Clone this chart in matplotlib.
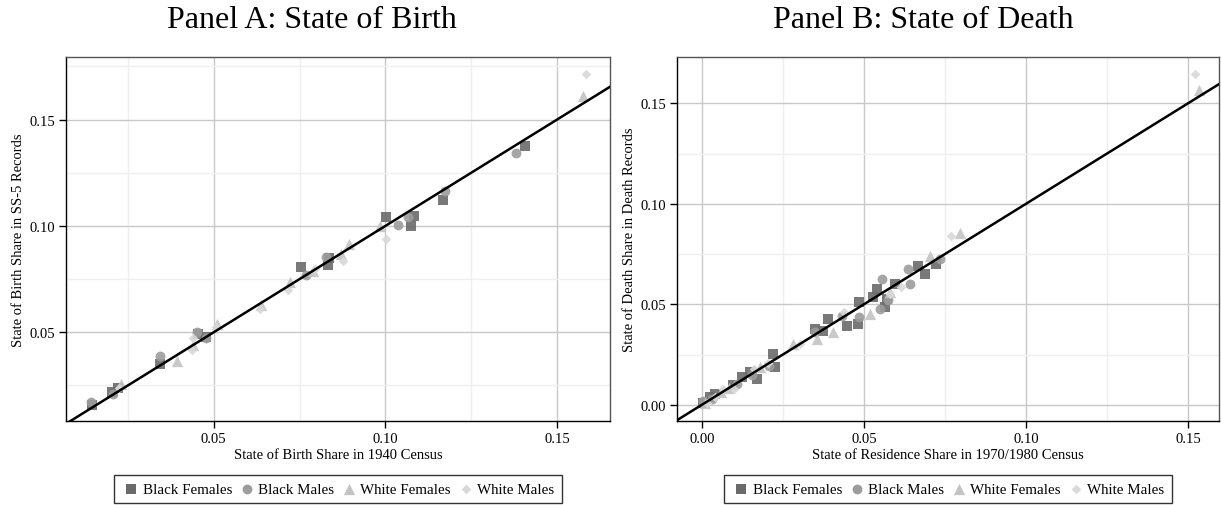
import matplotlib
matplotlib.use("Agg")
import matplotlib.pyplot as plt
from matplotlib.ticker import MultipleLocator

plt.rcParams["font.family"] = ["Liberation Serif", "DejaVu Serif"]

groups = ["Black Females", "Black Males", "White Females", "White Males"]

# Panel A: state of birth share, 1940 census (x) vs SS-5 records (y)
a_bf_x = [0.0145, 0.0203, 0.0222, 0.0343, 0.0455, 0.0479, 0.0755, 0.0832, 0.0835, 0.1002, 0.1084, 0.1076, 0.1169, 0.1406]
a_bf_y = [0.0160, 0.0220, 0.0239, 0.0353, 0.0490, 0.0478, 0.0806, 0.0814, 0.0850, 0.1044, 0.1048, 0.1001, 0.1123, 0.1377]
a_bm_x = [0.0142, 0.0206, 0.0343, 0.0450, 0.0479, 0.0770, 0.0828, 0.1036, 0.1065, 0.1174, 0.1380]
a_bm_y = [0.0170, 0.0212, 0.0387, 0.0501, 0.0472, 0.0767, 0.0853, 0.1005, 0.1044, 0.1166, 0.1341]
a_wf_x = [0.0230, 0.0393, 0.0440, 0.0511, 0.0639, 0.0721, 0.0790, 0.0871, 0.0895, 0.0985, 0.1574]
a_wf_y = [0.0259, 0.0363, 0.0440, 0.0540, 0.0626, 0.0737, 0.0790, 0.0869, 0.0916, 0.1001, 0.1611]
a_wm_x = [0.0225, 0.0438, 0.0439, 0.0508, 0.0634, 0.0715, 0.0794, 0.0878, 0.1002, 0.1583]
a_wm_y = [0.0240, 0.0415, 0.0475, 0.0525, 0.0610, 0.0697, 0.0798, 0.0834, 0.0939, 0.1716]

# Panel B: state of residence share, 1970/1980 census (x) vs death records (y)
b_bf_x = [0.0002, 0.0025, 0.0040, 0.0097, 0.0123, 0.0148, 0.0169, 0.0220, 0.0225, 0.0349, 0.0374,
          0.0390, 0.0447, 0.0481, 0.0486, 0.0529, 0.0539, 0.0565, 0.0570, 0.0596, 0.0668, 0.0688, 0.0724]
b_bf_y = [0.0008, 0.0038, 0.0055, 0.0096, 0.0137, 0.0162, 0.0129, 0.0253, 0.0187, 0.0377, 0.0369,
          0.0427, 0.0394, 0.0402, 0.0510, 0.0535, 0.0576, 0.0485, 0.0526, 0.0601, 0.0692, 0.0650, 0.0700]
b_bm_x = [0.0004, 0.0030, 0.0108, 0.0155, 0.0206, 0.0349, 0.0431, 0.0486, 0.0549, 0.0555, 0.0574,
          0.0637, 0.0642, 0.0735]
b_bm_y = [0.0021, 0.0030, 0.0105, 0.0150, 0.0195, 0.0361, 0.0443, 0.0435, 0.0477, 0.0626, 0.0520,
          0.0675, 0.0601, 0.0725]
b_wf_x = [0.0010, 0.0060, 0.0085, 0.0179, 0.0280, 0.0354, 0.0405, 0.0519, 0.0580, 0.0704, 0.0796, 0.1534]
b_wf_y = [0.0010, 0.0065, 0.0085, 0.0187, 0.0300, 0.0328, 0.0361, 0.0452, 0.0560, 0.0741, 0.0857, 0.1566]
b_wm_x = [0.0015, 0.0040, 0.0066, 0.0099, 0.0160, 0.0205, 0.0302, 0.0440, 0.0580, 0.0615, 0.0768, 0.1522]
b_wm_y = [0.0010, 0.0040, 0.0079, 0.0079, 0.0180, 0.0210, 0.0303, 0.0460, 0.0550, 0.0585, 0.0841, 0.1647]

styles = [
    dict(marker="s", color="#6a6a6a", s=46),
    dict(marker="o", color="#9c9c9c", s=50),
    dict(marker="^", color="#c3c3c3", s=66),
    dict(marker="D", color="#d9d9d9", s=24),
]

W, H = 1221, 506
fig = plt.figure(figsize=(W / 100, H / 100), dpi=100)


def make_panel(rect, series, xlim, ylim, xticks, yticks, xlabel, ylabel):
    ax = fig.add_axes(rect)
    ax.set_xlim(*xlim)
    ax.set_ylim(*ylim)
    ax.set_xticks(xticks)
    ax.set_yticks(yticks)
    ax.xaxis.set_minor_locator(MultipleLocator(0.025))
    ax.yaxis.set_minor_locator(MultipleLocator(0.025))
    ax.grid(which="major", color="#c8c8c8", lw=1.0)
    ax.grid(which="minor", color="#efefef", lw=1.0)
    ax.tick_params(which="minor", length=0)
    ax.tick_params(which="major", length=5, width=1, labelsize=10.5, pad=3)
    ax.set_axisbelow(True)
    ax.set_xticklabels([f"{t:.2f}" for t in xticks])
    ax.set_yticklabels([f"{t:.2f}" for t in yticks])
    for side in ["top", "right"]:
        ax.spines[side].set_color("#555555")
        ax.spines[side].set_linewidth(1.0)
    for side in ["left", "bottom"]:
        ax.spines[side].set_color("black")
        ax.spines[side].set_linewidth(1.0)
    for (x, y), st, name in zip(series, styles, groups):
        ax.scatter(x, y, marker=st["marker"], color=st["color"], s=st["s"],
                   linewidths=0, alpha=0.9, label=name, zorder=3)
    lo = min(xlim[0], ylim[0])
    hi = max(xlim[1], ylim[1])
    ax.plot([lo, hi], [lo, hi], color="black", lw=1.8, zorder=4)
    ax.set_xlabel(xlabel, fontsize=10.5, labelpad=2)
    ax.set_ylabel(ylabel, fontsize=10.5, labelpad=3)
    handles, labels = ax.get_legend_handles_labels()
    leg = ax.legend(handles, labels, ncol=4, loc="center",
                    bbox_to_anchor=(0.5, -0.187), frameon=True, fancybox=False,
                    edgecolor="black", fontsize=10.8, handletextpad=0.1,
                    handlelength=1.3, columnspacing=0.35, borderpad=0.5,
                    borderaxespad=0, markerscale=1.0, scatterpoints=1)
    leg.get_frame().set_linewidth(1.0)
    for lh in leg.legend_handles:
        lh.set_alpha(1.0)
    return ax


ax_a = make_panel([66 / W, 1 - 422 / H, 544 / W, 364 / H],
                  [(a_bf_x, a_bf_y), (a_bm_x, a_bm_y), (a_wf_x, a_wf_y), (a_wm_x, a_wm_y)],
                  (0.007, 0.1654), (0.0083, 0.1794), [0.05, 0.10, 0.15], [0.05, 0.10, 0.15],
                  "State of Birth Share in 1940 Census", "State of Birth Share in SS-5 Records")

ax_b = make_panel([677 / W, 1 - 422 / H, 542 / W, 364 / H],
                  [(b_bf_x, b_bf_y), (b_bm_x, b_bm_y), (b_wf_x, b_wf_y), (b_wm_x, b_wm_y)],
                  (-0.0077, 0.1596), (-0.0081, 0.1731), [0.0, 0.05, 0.10, 0.15], [0.0, 0.05, 0.10, 0.15],
                  "State of Residence Share in 1970/1980 Census", "State of Death Share in Death Records")

fig.text(312 / W, 1 - 20 / H, "Panel A: State of Birth", ha="center", va="center", fontsize=23)
fig.text(923 / W, 1 - 20 / H, "Panel B: State of Death", ha="center", va="center", fontsize=23)

fig.savefig("out.png", dpi=100)
